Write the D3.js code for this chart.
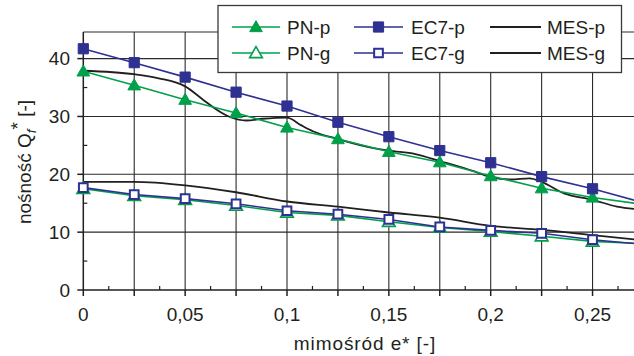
<!DOCTYPE html>
<html>
<head>
<meta charset="utf-8">
<script src="https://cdn.jsdelivr.net/npm/d3@7"></script>
<style>
  body { margin: 0; background: #fff; }
  text { font-family: Arial, "Liberation Sans", sans-serif; fill: #231f20; }
</style>
</head>
<body>
<svg width="634" height="356"></svg>
<script>
// values
var xVals = [0, 0.025, 0.05, 0.075, 0.1, 0.125, 0.15, 0.175, 0.2, 0.225, 0.25, 0.275];
var pnP  = [37.8, 35.4, 32.9, 30.6, 28.1, 26.1, 23.9, 22.1, 19.7, 17.6, 16.0, 14.8];
var ec7P = [41.7, 39.3, 36.8, 34.2, 31.8, 29.0, 26.5, 24.1, 22.0, 19.6, 17.5, 15.1];
var pnG  = [17.5, 16.3, 15.6, 14.6, 13.4, 12.9, 11.8, 10.8, 10.1, 9.3, 8.4, 8.0];
var ec7G = [17.7, 16.5, 15.8, 14.9, 13.7, 13.1, 12.2, 10.9, 10.3, 9.8, 8.7, 7.9];

var mesPx = [0, 0.025, 0.037, 0.05, 0.0588, 0.0653, 0.072, 0.08, 0.088, 0.1, 0.1068, 0.113, 0.125, 0.139, 0.15, 0.163, 0.175, 0.192, 0.2, 0.21, 0.219, 0.225, 0.236, 0.25, 0.262, 0.275];
var mesPy = [37.9, 37.3, 36.6, 35.2, 32.9, 31.2, 29.9, 29.3, 29.6, 29.8, 28.5, 27.4, 26.1, 24.8, 24.1, 23.5, 22.3, 20.5, 19.5, 19.1, 19.3, 18.7, 16.7, 15.6, 14.4, 13.9];
var mesGx = [0, 0.025, 0.05, 0.075, 0.1, 0.125, 0.15, 0.175, 0.2, 0.225, 0.25, 0.275];
var mesGy = [18.7, 18.7, 18.1, 16.9, 15.3, 14.4, 13.4, 12.5, 11.1, 10.4, 9.5, 8.6];

var xTickVals = [0, 0.05, 0.1, 0.15, 0.2, 0.25];
var xTickLabels = ["0", "0,05", "0,1", "0,15", "0,2", "0,25"];
var yTickVals = [0, 10, 20, 30, 40];
var legendNames = [["PN-p", "EC7-p", "MES-p"], ["PN-g", "EC7-g", "MES-g"]];

var green = "#00a04b", blue = "#2e3192", black = "#231f20";
var fs = "19px";

var svg = d3.select("svg");
var x = d3.scaleLinear().domain([0, 0.3]).range([83.3, 694.4]);
var y = d3.scaleLinear().domain([0, 44.6]).range([290, 32]);

// grid
var grid = svg.append("g").attr("stroke", "#2b2b2b").attr("stroke-width", 1.1);
d3.range(1, 11).forEach(function(i) {
    var v = i * 0.025;
    grid.append("line").attr("x1", x(v)).attr("x2", x(v)).attr("y1", y.range()[1]).attr("y2", y(0));
});
[10, 20, 30, 40].forEach(function(v) {
    grid.append("line").attr("x1", x(0)).attr("x2", 634).attr("y1", y(v)).attr("y2", y(v));
});
// top frame
grid.append("line").attr("x1", x(0)).attr("x2", 634).attr("y1", 32).attr("y2", 32);

// axes
var axes = svg.append("g").attr("stroke", black).attr("stroke-width", 1.5);
axes.append("line").attr("x1", x(0)).attr("x2", x(0)).attr("y1", 32).attr("y2", y(0));
axes.append("line").attr("x1", x(0)).attr("x2", 634).attr("y1", y(0)).attr("y2", y(0));
yTickVals.forEach(function(v) {
    axes.append("line").attr("x1", x(0) - 6).attr("x2", x(0)).attr("y1", y(v)).attr("y2", y(v));
});
[5, 15, 25, 35].forEach(function(v) {
    axes.append("line").attr("x1", x(0)).attr("x2", x(0) + 4).attr("y1", y(v)).attr("y2", y(v)).attr("stroke-width", 1.2);
});
d3.range(0, 12).forEach(function(i) {
    var v = i * 0.025;
    axes.append("line").attr("x1", x(v)).attr("x2", x(v)).attr("y1", y(0)).attr("y2", y(0) + 6);
    axes.append("line").attr("x1", x(v + 0.0125)).attr("x2", x(v + 0.0125))
        .attr("y1", y(0) - 4).attr("y2", y(0)).attr("stroke-width", 1.2);
});

svg.append("g").selectAll("text").data(yTickVals).enter().append("text")
    .attr("x", 70).attr("y", function(d) { return y(d); }).attr("dy", "0.36em")
    .attr("text-anchor", "end").style("font-size", fs)
    .text(function(d) { return d; });

svg.append("g").selectAll("text").data(xTickVals).enter().append("text")
    .attr("x", function(d) { return x(d); }).attr("y", 321)
    .attr("text-anchor", "middle").style("font-size", fs)
    .text(function(d, i) { return xTickLabels[i]; });

svg.append("text").attr("x", 365).attr("y", 350).attr("text-anchor", "middle")
    .style("font-size", fs).style("letter-spacing", "0.9px")
    .text("mimośród e* [-]");

var yl = svg.append("text").attr("transform", "translate(31,162) rotate(-90)")
    .attr("text-anchor", "middle").style("font-size", fs);
yl.append("tspan").text("nośność Q");
yl.append("tspan").attr("dy", 5).style("font-size", "13.5px").style("font-style", "italic").text("f");
yl.append("tspan").attr("dy", -12).text("*");
yl.append("tspan").attr("dy", 7).text(" [-]");

// series
var line = d3.line().x(function(d) { return x(d[0]); }).y(function(d) { return y(d[1]); });
var smooth = d3.line().curve(d3.curveMonotoneX).x(function(d) { return x(d[0]); }).y(function(d) { return y(d[1]); });
function pairs(xs, ys) { return xs.map(function(v, i) { return [v, ys[i]]; }); }

var plot = svg.append("g");
plot.append("path").datum(pairs(mesGx, mesGy)).attr("d", smooth).attr("fill", "none").attr("stroke", black).attr("stroke-width", 1.8);
plot.append("path").datum(pairs(mesPx, mesPy)).attr("d", smooth).attr("fill", "none").attr("stroke", black).attr("stroke-width", 1.8);
plot.append("path").datum(pairs(xVals, pnG)).attr("d", line).attr("fill", "none").attr("stroke", green).attr("stroke-width", 1.6);
plot.append("path").datum(pairs(xVals, ec7G)).attr("d", line).attr("fill", "none").attr("stroke", blue).attr("stroke-width", 1.6);
plot.append("path").datum(pairs(xVals, pnP)).attr("d", line).attr("fill", "none").attr("stroke", green).attr("stroke-width", 1.6);
plot.append("path").datum(pairs(xVals, ec7P)).attr("d", line).attr("fill", "none").attr("stroke", blue).attr("stroke-width", 1.6);

var tri = d3.symbol().type(d3.symbolTriangle).size(70);
var sq = d3.symbol().type(d3.symbolSquare).size(104);
var sqOpen = d3.symbol().type(d3.symbolSquare).size(76);

function markers(ys, sym, fill, stroke, sw, dy) {
    plot.append("g").selectAll("path").data(pairs(xVals, ys).slice(0, 11)).enter().append("path")
        .attr("transform", function(d) { return "translate(" + x(d[0]) + "," + (y(d[1]) + dy) + ")"; })
        .attr("d", sym).attr("fill", fill).attr("stroke", stroke).attr("stroke-width", sw);
}
markers(pnG, tri, "#fff", green, 1.6, 1);
markers(ec7G, sqOpen, "#fff", blue, 2, 0);
markers(pnP, tri, green, green, 1, 1);
markers(ec7P, sq, blue, blue, 1, 0);

// legend
var lg = svg.append("g");
lg.append("rect").attr("x", 218).attr("y", 5.5).attr("width", 403.5).attr("height", 67)
    .attr("fill", "#fff").attr("stroke", "#3a3a3a").attr("stroke-width", 1.3);
var cols = [{x1: 232, x2: 280, tx: 287}, {x1: 354, x2: 403, tx: 411}, {x1: 490, x2: 541, tx: 547}];
var rowsY = [27, 53];
var legStyle = [
    [{c: green, sym: tri, fill: green, sw: 1}, {c: blue, sym: sq, fill: blue, sw: 1}, {c: black, sym: null}],
    [{c: green, sym: tri, fill: "#fff", sw: 1.6}, {c: blue, sym: sqOpen, fill: "#fff", sw: 2}, {c: black, sym: null}]
];
rowsY.forEach(function(ry, r) {
    cols.forEach(function(c, k) {
        var s = legStyle[r][k];
        lg.append("line").attr("x1", c.x1).attr("x2", c.x2).attr("y1", ry).attr("y2", ry)
            .attr("stroke", s.c).attr("stroke-width", s.sym ? 1.6 : 1.8);
        if (s.sym) {
            lg.append("path").attr("transform", "translate(" + ((c.x1 + c.x2) / 2) + "," + (ry + (s.sym === tri ? 1 : 0)) + ")")
                .attr("d", s.sym).attr("fill", s.fill).attr("stroke", s.c).attr("stroke-width", s.sw);
        }
        lg.append("text").attr("x", c.tx).attr("y", ry + 6.5).style("font-size", fs)
            .text(legendNames[r][k]);
    });
});
</script>
</body>
</html>
